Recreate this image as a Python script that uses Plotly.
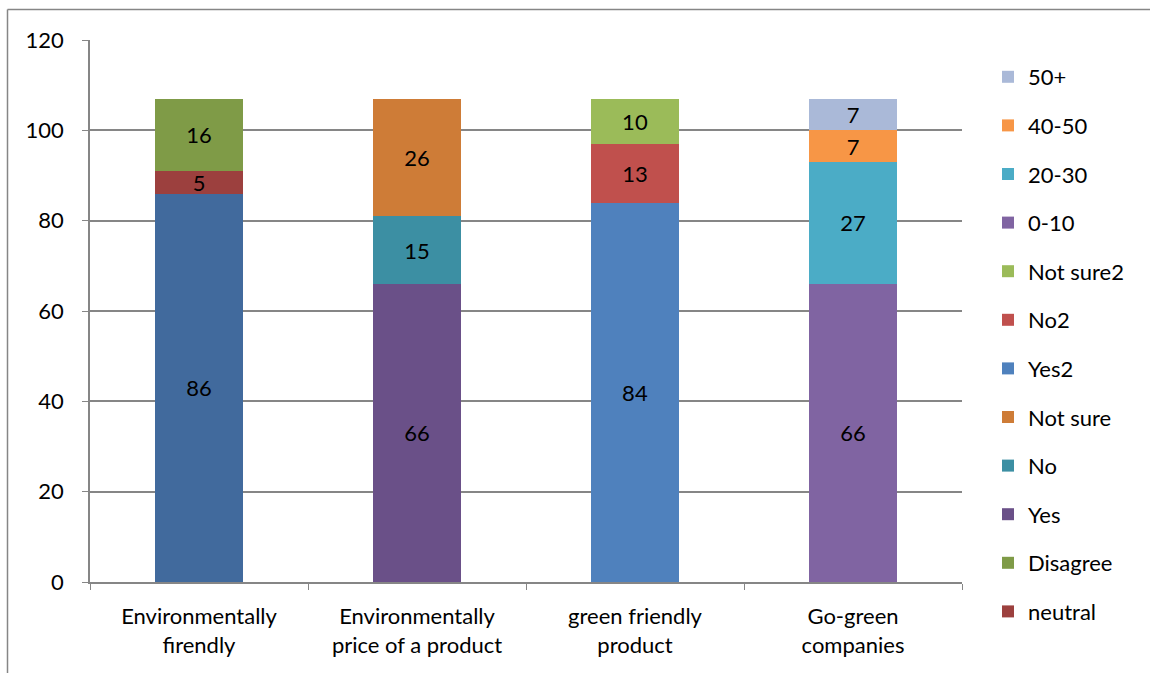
import plotly.graph_objects as go

categories = ["Environmentally<br>firendly", "Environmentally<br>price of a product",
              "green friendly<br>product", "Go-green<br>companies"]

agree = [86, None, None, None]
neutral = [5, None, None, None]
disagree = [16, None, None, None]
yes = [None, 66, None, None]
no = [None, 15, None, None]
not_sure = [None, 26, None, None]
yes2 = [None, None, 84, None]
no2 = [None, None, 13, None]
not_sure2 = [None, None, 10, None]
age_0_10 = [None, None, None, 66]
age_20_30 = [None, None, None, 27]
age_40_50 = [None, None, None, 7]
age_50p = [None, None, None, 7]

series = [
    ("Agree", agree, "#416A9D", False),
    ("neutral", neutral, "#9C403E", True),
    ("Disagree", disagree, "#7F9B47", True),
    ("Yes", yes, "#6A5088", True),
    ("No", no, "#3C8FA3", True),
    ("Not sure", not_sure, "#CE7C37", True),
    ("Yes2", yes2, "#4F81BD", True),
    ("No2", no2, "#C0504D", True),
    ("Not sure2", not_sure2, "#9BBB59", True),
    ("0-10", age_0_10, "#8064A2", True),
    ("20-30", age_20_30, "#4BACC6", True),
    ("40-50", age_40_50, "#F79646", True),
    ("50+", age_50p, "#AAB9D8", True),
]

FONT = "Lato"
FS = 22

fig = go.Figure()
n = len(series)
for i, (name, vals, color, show) in enumerate(series):
    fig.add_trace(go.Bar(
        x=categories, y=vals, name=name, marker=dict(color=color, line=dict(width=0)),
        text=[("" if v is None else str(v)) for v in vals],
        textposition="inside", insidetextanchor="middle", textangle=0,
        textfont=dict(color="black", size=FS, family=FONT),
        showlegend=show, legendgroup=name, legendrank=n - i,
    ))

W, H = 1150, 673
L, R, T, B = 90, 962, 40, 582

def px(xp):
    return (xp - L) / (R - L)

def py(yp):
    return (B - yp) / (B - T)

frame = dict(color="#868686", width=1.5)

fig.update_layout(
    width=W, height=H,
    barmode="stack", bargap=0.6,
    paper_bgcolor="white", plot_bgcolor="white",
    margin=dict(l=L, r=W - R, t=T, b=H - B, pad=0, autoexpand=False),
    font=dict(family=FONT, size=FS, color="black"),
    uniformtext=dict(minsize=FS, mode="show"),
    legend=dict(
        x=px(988), y=py(56), xanchor="left", yanchor="top",
        traceorder="grouped", tracegroupgap=17, maxheight=660,
        font=dict(family=FONT, size=FS, color="black"),
        bgcolor="rgba(0,0,0,0)",
    ),
    xaxis=dict(
        showline=True, linecolor="#868686", linewidth=1.5,
        ticks="outside", tickson="boundaries", ticklen=6, tickcolor="#868686",
        tickfont=dict(family=FONT, size=FS, color="black"),
        showgrid=False, zeroline=False, ticklabelstandoff=14,
    ),
    yaxis=dict(
        range=[0, 120], dtick=20, tick0=0,
        showline=True, linecolor="#868686", linewidth=1.5,
        ticks="outside", ticklen=6, tickcolor="#868686",
        showgrid=True, gridcolor="#868686", gridwidth=1.5,
        zeroline=False,
        tickfont=dict(family=FONT, size=FS, color="black"),
        ticklabelstandoff=14,
    ),
    shapes=[
        dict(type="line", xref="paper", yref="paper",
             x0=px(7.5), x1=px(7.5), y0=py(H + 5), y1=py(9.5), line=frame),
        dict(type="line", xref="paper", yref="paper",
             x0=px(7.5), x1=px(W + 5), y0=py(9.5), y1=py(9.5), line=frame),
    ],
)

fig.write_html(
    "out.html",
    config={"displayModeBar": False},
    post_script="document.body.style.margin='0';document.body.style.overflow='hidden';"
                "document.body.style.background='white';",
)
